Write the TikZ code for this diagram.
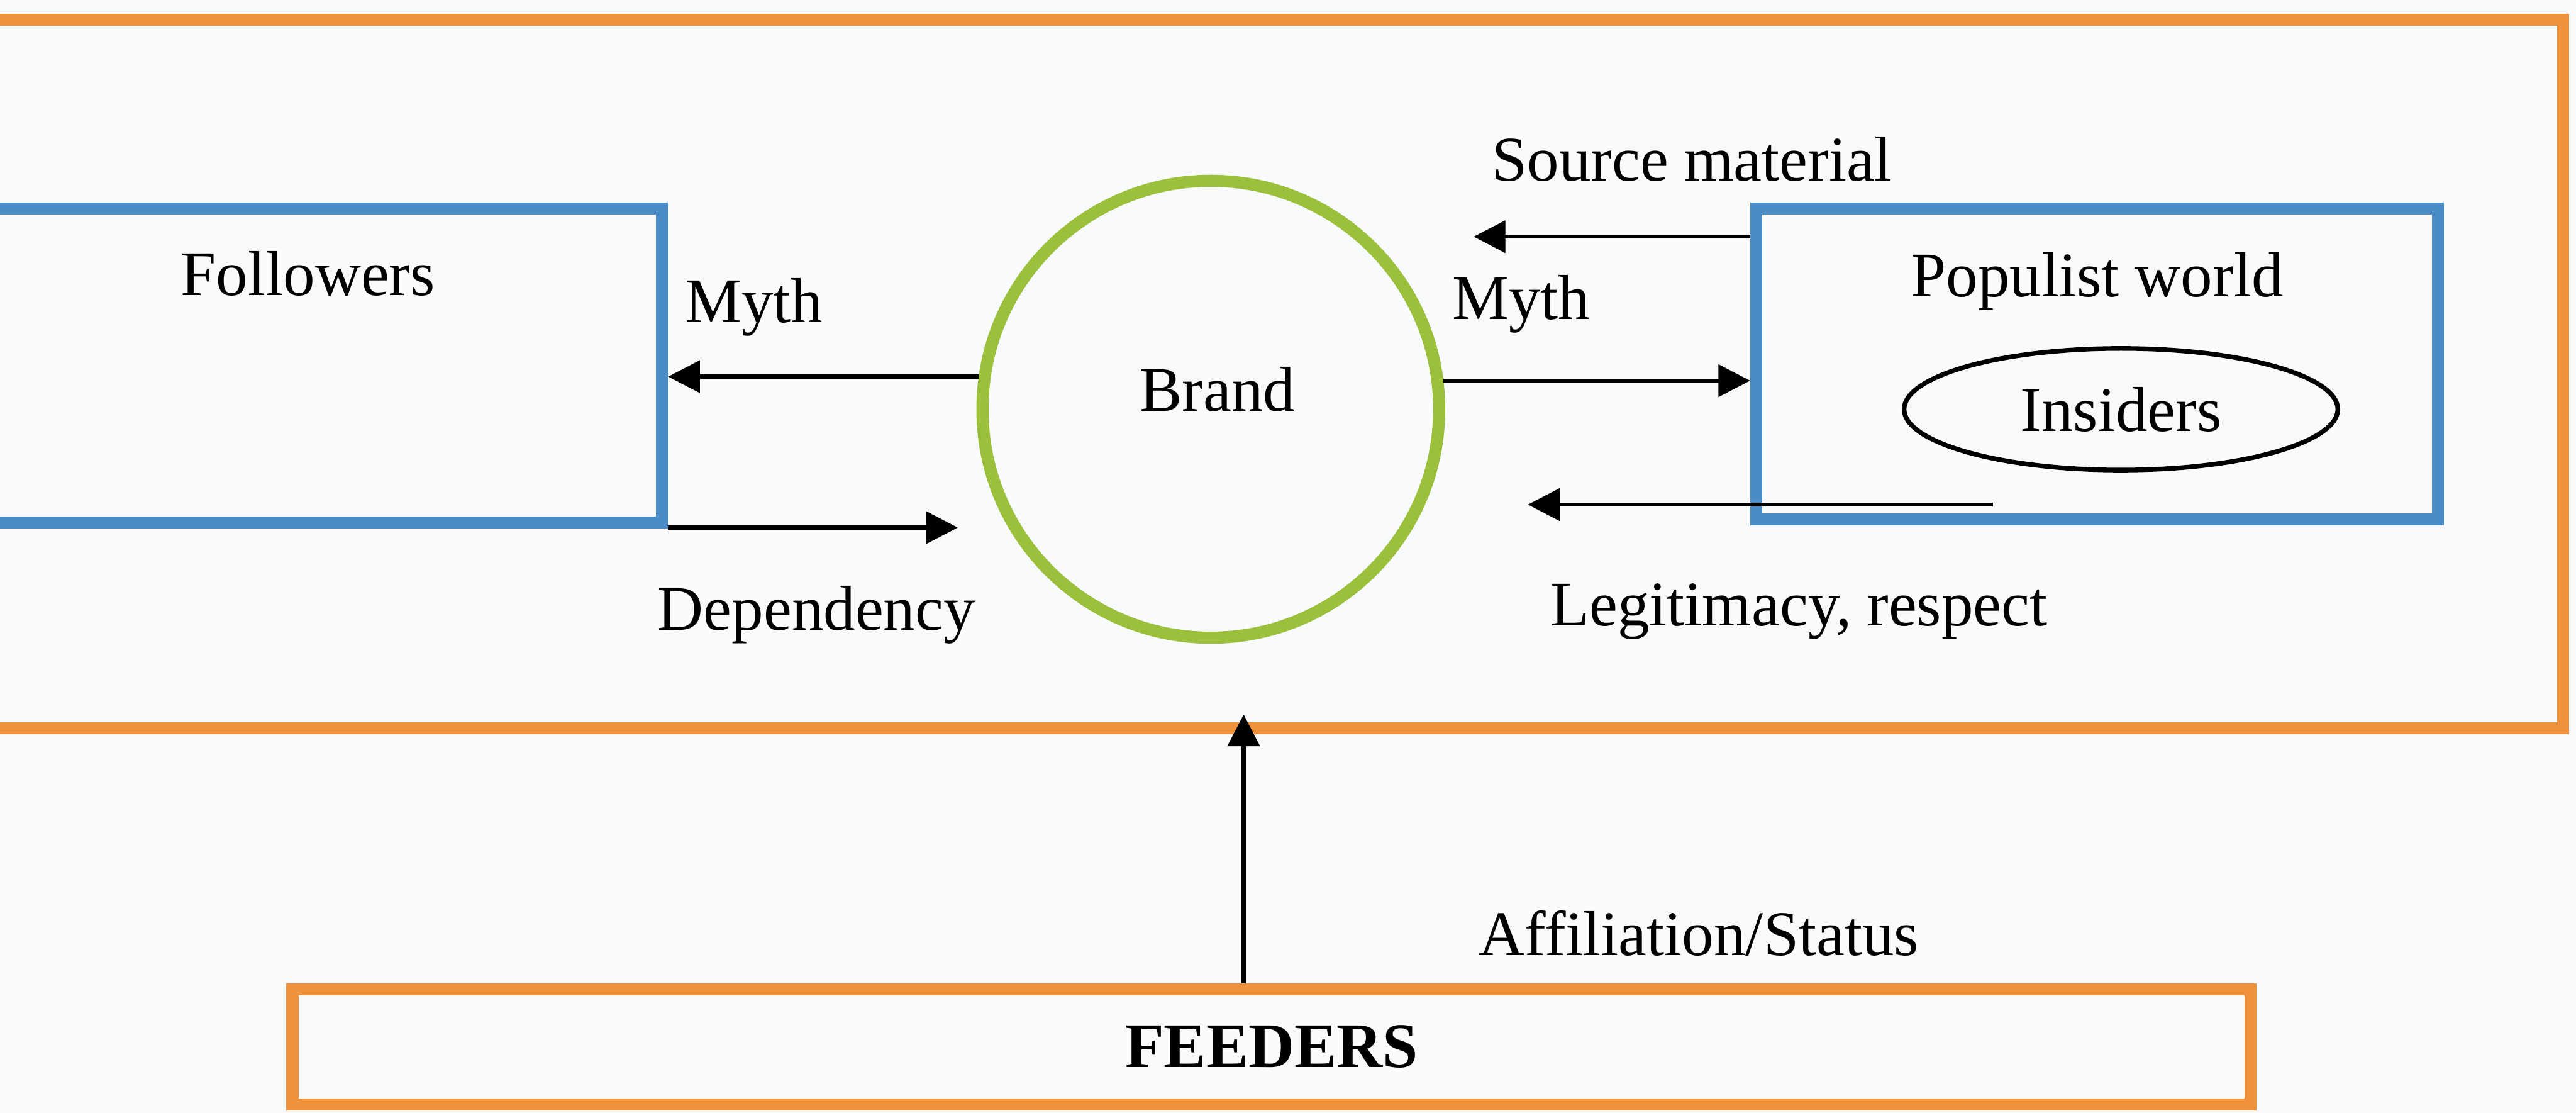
\documentclass[tikz,border=0pt]{standalone}
\usepackage{fontspec}
\setmainfont{Liberation Serif}
\usepackage{xcolor}
\usetikzlibrary{shapes,arrows,positioning,calc,shapes.geometric,arrows.meta}

\definecolor{frameorange}{RGB}{240,145,60}
\definecolor{groupblue}{RGB}{74,140,200}
\definecolor{brandgreen}{RGB}{155,192,60}
\definecolor{paper}{RGB}{248,250,252}

\begin{document}
\begin{tikzpicture}[
				font=\fontsize{11}{13}\selectfont,
				frame/.style={rectangle, draw=frameorange, line width=2.1pt, inner sep=0pt},
				group/.style={rectangle, draw=groupblue, line width=2.1pt, inner sep=0pt},
				brandring/.style={circle, draw=brandgreen, line width=2.1pt, minimum size=2.78cm, inner sep=0pt},
				inner/.style={ellipse, draw, line width=0.8pt, minimum width=2.64cm, minimum height=0.74cm},
				flow/.style={-{Triangle[length=5.5pt,width=5.5pt]}, line width=0.7pt},
				tag/.style={inner sep=1pt}
				]
				\fill[paper] (0,0) rectangle (15.68,6.77);
				\useasboundingbox (0,0) rectangle (15.68,6.77);

				\node[frame, minimum width=15.70cm, minimum height=4.31cm] (outer) at (7.75,4.495) {};
				\node[group, minimum width=4.13cm, minimum height=1.91cm,
					label={[anchor=center,xshift=-0.09cm,yshift=-0.43cm]north:Followers}] (followers) at (1.965,4.545) {};
				\node[group, minimum width=4.15cm, minimum height=1.89cm,
					label={[anchor=center,yshift=-0.48cm]north:Populist world}] (populist) at (12.765,4.555) {};
				\node[inner] (insiders) at (12.91,4.28) {Insiders};
				\node[brandring, label={[anchor=center,xshift=0.04cm,yshift=0.12cm]center:Brand}] (brand) at (7.37,4.28) {};
				\node[frame, minimum width=11.92cm, minimum height=0.70cm, font=\fontsize{11}{13}\selectfont\bfseries] (feeders) at (7.74,0.40) {FEEDERS};

				% connectors
				\coordinate (depend) at (5.83,3.56);
				\coordinate (sourceend) at (8.97,5.33);
				\coordinate (legitstart) at (12.13,3.70);
				\coordinate (legitend) at (9.30,3.70);
				\draw[flow] (brand.172.6) -- (brand.172.6 -| followers.east);
				\draw[flow] (followers.south east |- depend) -- (depend);
				\draw[flow] (brand.7.4) -- (brand.7.4 -| populist.west);
				\draw[flow] (populist.west |- sourceend) -- (sourceend);
				\draw[flow] (legitstart) -- (legitend);
				\draw[flow, shorten >=-0.12cm] (feeders.north -| 7.57,0) -- (outer.south -| 7.57,0);

				% labels
				\node[tag] (mythl) at (4.59,4.90) {Myth};
				\node[tag] (dependency) at (4.97,3.03) {Dependency};
				\node[tag] (mythr) at (9.26,4.92) {Myth};
				\node[tag] (source) at (10.30,5.80) {Source material};
				\node[tag] (legit) at (10.95,3.05) {Legitimacy, respect};
				\node[tag] (affiliation) at (10.34,1.09) {Affiliation/Status};
			\end{tikzpicture}
\end{document}
